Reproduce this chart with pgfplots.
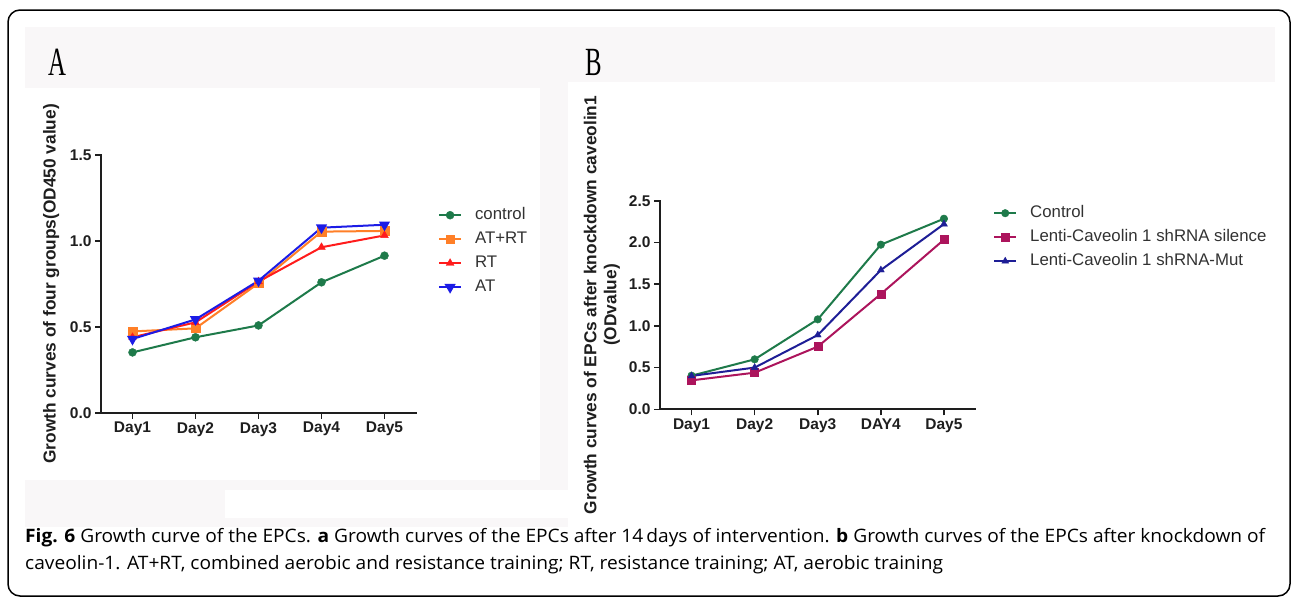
\documentclass[border=0pt]{standalone}
\usepackage{pgfplots}
\pgfplotsset{compat=1.18}
\usepackage{fontspec}
\usepackage{graphicx}
\setmainfont{Liberation Sans}
\newfontfamily\capfont{Open Sans}
\newfontfamily\panelfont{Liberation Serif}

\definecolor{bgc}{RGB}{249,247,248}
\definecolor{axisc}{RGB}{30,30,30}
\definecolor{txtc}{RGB}{30,30,30}
\definecolor{legc}{RGB}{50,50,50}
\definecolor{cGreen}{RGB}{30,122,74}
\definecolor{cOrange}{RGB}{255,127,39}
\definecolor{cRed}{RGB}{255,28,28}
\definecolor{cBlue}{RGB}{28,28,230}
\definecolor{cMagenta}{RGB}{172,20,92}
\definecolor{cNavy}{RGB}{30,30,150}

\pgfplotsset{
  growth/.style={
    scale only axis,
    anchor=south west,
    xmin=0.5, xmax=5.5, ymin=0,
    axis x line*=bottom, axis y line*=left,
    axis line style={line width=1.8pt, color=axisc, line cap=rect},
    xtick={1,...,5},
    tick align=outside, major tick length=6pt,
    tick style={line width=1.6pt, color=axisc},
    tick label style={font=\bfseries\fontsize{15.5}{18}\selectfont, text=txtc},
    label style={font=\bfseries\fontsize{17.3}{20}\selectfont, text=txtc},
    clip=false,
    legend cell align=left,
    legend style={anchor=north west, draw=none, fill=none,
      font=\fontsize{16.8}{20}\selectfont, text=legc,
      nodes={inner sep=0pt, text height=12pt, text depth=4pt},
      row sep=8pt,
      /tikz/every odd column/.append style={column sep=13pt}},
    legend image code/.code={%
      \draw[mark repeat=2,mark phase=2] plot coordinates {(0pt,0pt)(11pt,0pt)(22pt,0pt)};},
    every axis plot/.append style={line width=2pt, mark options={line width=0.4pt}},
  }
}

\newlength\capw
\begin{document}%
\settowidth\capw{\capfont\fontsize{18.5}{20}\selectfont\textbf{Fig. 6} Growth curve of the EPCs. \textbf{a} Growth curves of the EPCs after 14\,days of intervention. \textbf{b} Growth curves of the EPCs after knockdown of}%
\pgfmathsetmacro\capsx{1240/\capw}%
\begin{tikzpicture}
\begin{scope}[x=1pt,y=-1pt]
  \useasboundingbox (0,0) rectangle (1292,597);
  \fill[bgc] (25,27) rectangle (1275,82);
  \fill[bgc] (25,82) rectangle (568,527);
  \fill[white] (25,88) rectangle (540,480);
  \fill[white] (225,490) rectangle (568,518);
  \draw[line width=1.5pt, rounded corners=12pt] (8,10) rectangle (1290,596);
  \node[inner sep=0pt] at (57,62) {\panelfont\fontsize{40}{42}\selectfont\scalebox{0.62}[1]{A}};
  \node[inner sep=0pt] at (594,62) {\panelfont\fontsize{40}{42}\selectfont\scalebox{0.62}[1]{B}};
  \node[anchor=base west, inner sep=0pt] at (25,542) {\capfont\fontsize{18.5}{20}\selectfont\scalebox{\capsx}[1]{\textbf{Fig. 6} Growth curve of the EPCs. \textbf{a} Growth curves of the EPCs after 14\,days of intervention. \textbf{b} Growth curves of the EPCs after knockdown of}};
  \node[anchor=base west, inner sep=0pt] at (25,569) {\capfont\fontsize{18.5}{20}\selectfont\scalebox{\capsx}[1]{caveolin-1. AT+RT, combined aerobic and resistance training; RT, resistance training; AT, aerobic training}};
\end{scope}

% panel A
\begin{axis}[growth,
  at={(101pt,-412.7pt)},
  width=315pt, height=257.7pt,
  ymax=1.5,
  xticklabels={Day1,Day2,Day3,Day4,Day5},
  ytick={0,0.5,1,1.5}, yticklabels={0.0,0.5,1.0,1.5},
  ylabel={Growth curves of four groups(OD450 value)},
  ylabel style={at={(axis description cs:-0.158,0.5)}, anchor=center},
  legend style={at={(1.06,0.806)}},
]
\addplot[cGreen, mark=*, mark size=4pt] coordinates {(1,0.351) (2,0.439) (3,0.508) (4,0.759) (5,0.914)};
\addlegendentry{control}
\addplot[cOrange, mark=square*, mark size=4.3pt] coordinates {(1,0.473) (2,0.491) (3,0.753) (4,1.054) (5,1.058)};
\addlegendentry{AT+RT}
\addplot[cRed, mark=triangle*, mark size=4.5pt] coordinates {(1,0.439) (2,0.526) (3,0.763) (4,0.963) (5,1.032)};
\addlegendentry{RT}
\addplot[cBlue, mark=triangle*, mark size=4.5pt, mark options={rotate=180}] coordinates {(1,0.429) (2,0.543) (3,0.768) (4,1.077) (5,1.094)};
\addlegendentry{AT}
\end{axis}

% panel B
\begin{axis}[growth,
  at={(660pt,-409.3pt)},
  width=315.5pt, height=208.6pt,
  ymax=2.5,
  xticklabels={Day1,Day2,Day3,DAY4,Day5},
  ytick={0,0.5,1,1.5,2,2.5}, yticklabels={0.0,0.5,1.0,1.5,2.0,2.5},
  ylabel={Growth curves of EPCs after knockdown caveolin1\\(ODvalue)},
  ylabel style={align=center, at={(axis description cs:-0.184,0.5)}, anchor=center},
  legend style={at={(1.046,0.989)}},
]
\addplot[cGreen, mark=*, mark size=3.8pt] coordinates {(1,0.403) (2,0.599) (3,1.078) (4,1.973) (5,2.284)};
\addlegendentry{Control}
\addplot[cMagenta, mark=square*, mark size=4pt] coordinates {(1,0.347) (2,0.439) (3,0.751) (4,1.382) (5,2.033)};
\addlegendentry{Lenti-Caveolin 1 shRNA silence}
\addplot[cNavy, mark=triangle*, mark size=4pt] coordinates {(1,0.400) (2,0.500) (3,0.890) (4,1.669) (5,2.220)};
\addlegendentry{Lenti-Caveolin 1 shRNA-Mut}
\end{axis}
\end{tikzpicture}%
\end{document}
